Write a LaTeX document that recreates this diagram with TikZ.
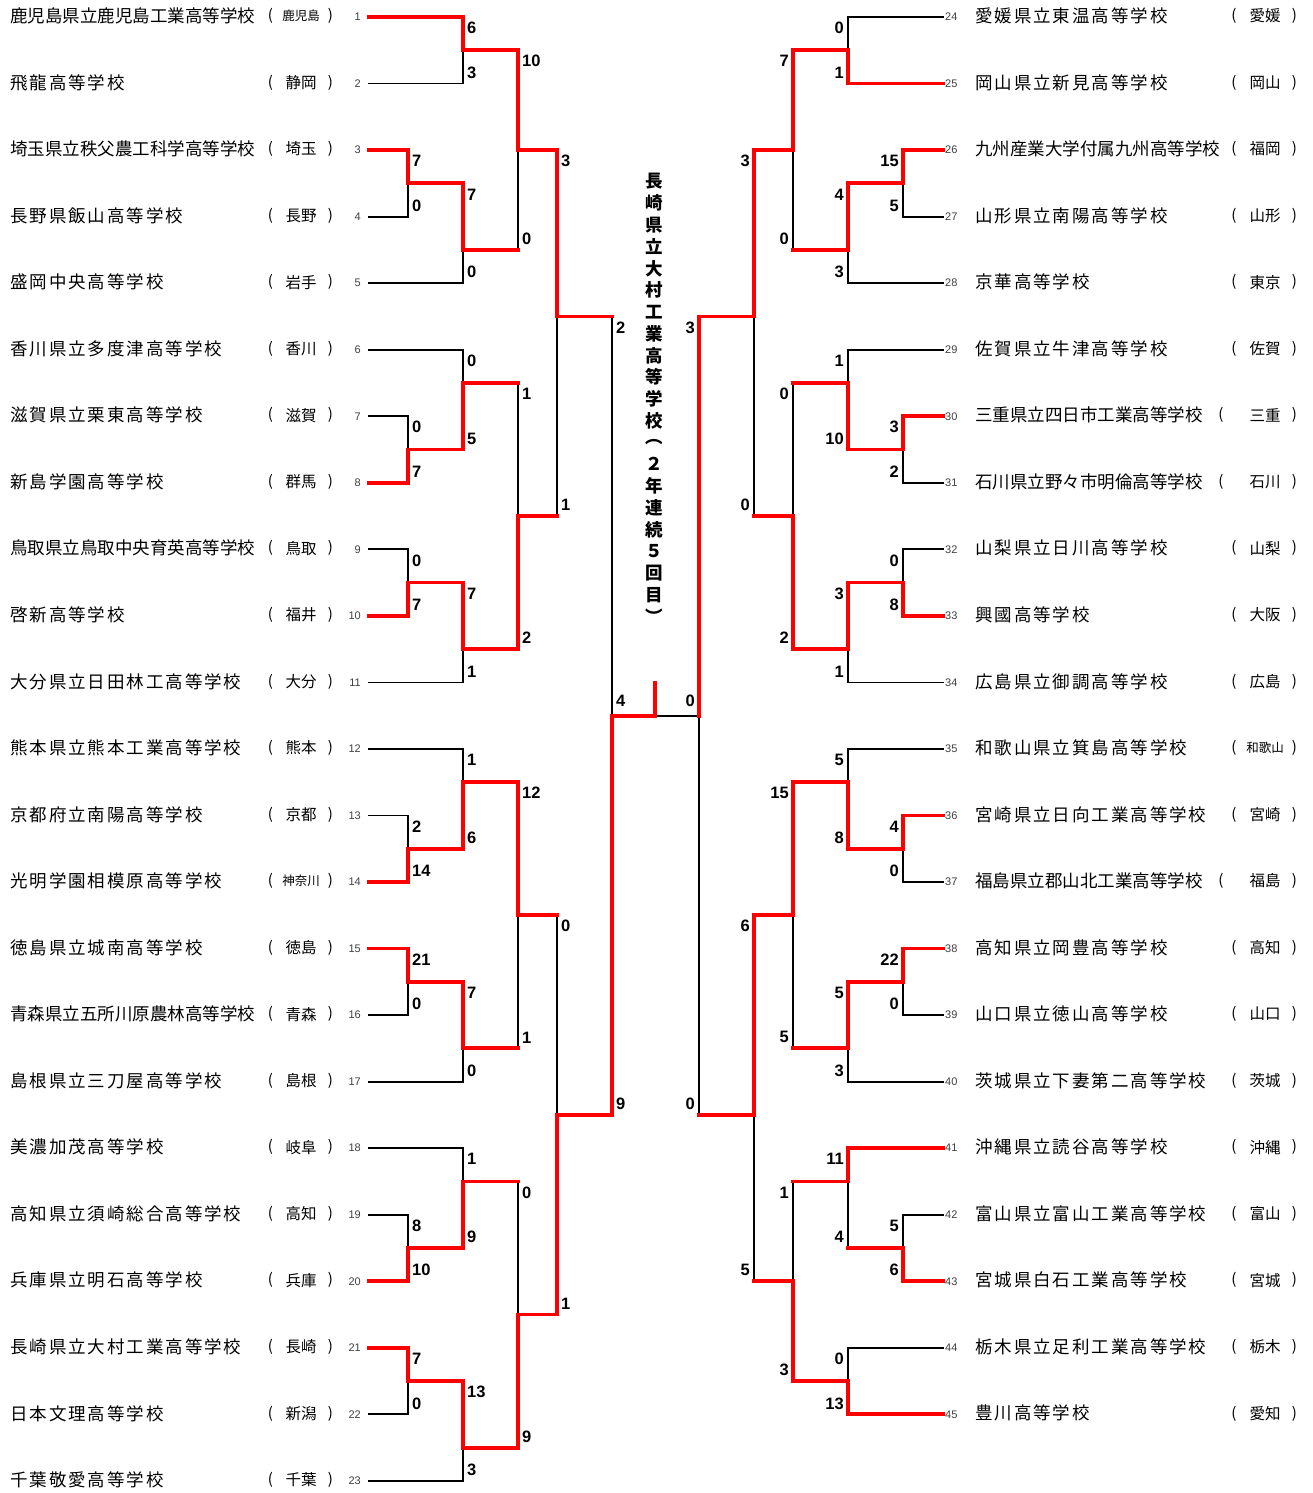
\documentclass[tikz,border=0pt]{standalone}
\usepackage{fontspec}
\setmainfont{Noto Sans CJK JP}
\newfontfamily\schoolfont{Noto Sans CJK JP}[LetterSpace=11]
\newfontfamily\tightfont{Noto Sans CJK JP}
\newfontfamily\scorefont{Liberation Sans}
\pgfdeclarelayer{winner}
\pgfsetlayers{main,winner}

\tikzset{
  lost/.style={draw=black, line width=1.8pt, line cap=rect},
  won/.style={draw=red, line width=3.8pt, line cap=rect},
  school/.style={inner sep=0pt, font=\schoolfont\fontsize{17.5}{20}\selectfont},
  prefbig/.style={inner sep=0pt, font=\fontsize{15.5}{18}\selectfont},
  prefsmall/.style={inner sep=0pt, font=\fontsize{12.5}{14}\selectfont},
  paren/.style={inner sep=0pt, font=\fontsize{15}{18}\selectfont},
  seed/.style={inner sep=0pt, text=black!75, font=\scorefont\fontsize{11}{12}\selectfont},
  score/.style={inner sep=0pt, font=\scorefont\bfseries\fontsize{16.5}{18}\selectfont},
  title/.style={inner sep=0pt, font=\bfseries\fontsize{17.5}{18}\selectfont},
}

\newcommand\seg[2]{\ifnum#1=1 \begin{pgfonlayer}{winner}\draw[won] #2;\end{pgfonlayer}\else\draw[lost] #2;\fi}

% tag, x, top row, bottom row, out row, next x, top score, bottom score, out line won
\newcommand\bout[9]{%
  \pgfmathtruncatemacro\tw{#7>#8}%
  \pgfmathtruncatemacro\bw{#7<#8}%
  \coordinate (#1t) at (#2,{17+33.27*#3});
  \coordinate (#1b) at (#2,{17+33.27*#4});
  \coordinate (#1o) at (#2,{17+33.27*#5});
  \seg{\tw}{(#1t) -- (#1o)}%
  \seg{\bw}{(#1o) -- (#1b)}%
  \seg{#9}{(#1o) -- (#6,{17+33.27*#5})}%
  \node[score, anchor=\anc] (#1st) at ({#2+(\dx)},{28+33.27*#3}) {#7};
  \node[score, anchor=\anc] (#1sb) at ({#2+(\dx)},{6+33.27*#4}) {#8};
}

\begin{document}
\begin{tikzpicture}[x=1pt, y=-1pt]
\fill[white] (0,0) rectangle (1313,1493);
\useasboundingbox (0,0) rectangle (1313,1493);

\foreach \n/\nm/\pf/\ps/\jx/\w in {
  1/{\tightfont 鹿児島県立鹿児島工業高等学校}/鹿児島/prefsmall/463/1,
  2/飛龍高等学校/静岡/prefbig/463/0,
  3/{\tightfont 埼玉県立秩父農工科学高等学校}/埼玉/prefbig/408/1,
  4/長野県飯山高等学校/長野/prefbig/408/0,
  5/盛岡中央高等学校/岩手/prefbig/463/0,
  6/香川県立多度津高等学校/香川/prefbig/463/0,
  7/滋賀県立栗東高等学校/滋賀/prefbig/408/0,
  8/新島学園高等学校/群馬/prefbig/408/1,
  9/{\tightfont 鳥取県立鳥取中央育英高等学校}/鳥取/prefbig/408/0,
  10/啓新高等学校/福井/prefbig/408/1,
  11/大分県立日田林工高等学校/大分/prefbig/463/0,
  12/熊本県立熊本工業高等学校/熊本/prefbig/463/0,
  13/京都府立南陽高等学校/京都/prefbig/408/0,
  14/光明学園相模原高等学校/神奈川/prefsmall/408/1,
  15/徳島県立城南高等学校/徳島/prefbig/408/1,
  16/{\tightfont 青森県立五所川原農林高等学校}/青森/prefbig/408/0,
  17/島根県立三刀屋高等学校/島根/prefbig/463/0,
  18/美濃加茂高等学校/岐阜/prefbig/463/0,
  19/高知県立須崎総合高等学校/高知/prefbig/408/0,
  20/兵庫県立明石高等学校/兵庫/prefbig/408/1,
  21/長崎県立大村工業高等学校/長崎/prefbig/408/1,
  22/日本文理高等学校/新潟/prefbig/408/0,
  23/千葉敬愛高等学校/千葉/prefbig/463/0} {
  \pgfmathsetmacro\yy{17+66.54*(\n-1)}
  \coordinate (e\n) at (369,\yy);
  \seg{\w}{(e\n) -- (\jx,\yy)}
  \node[school, anchor=west] (nm\n) at (10,\yy-1) {\nm};
  \node[paren] (po\n) at (270.5,\yy-1) {(};
  \node[\ps] (pf\n) at (301,\yy-1) {\pf};
  \node[paren] (pc\n) at (330.5,\yy-1) {)};
  \node[seed, anchor=east] (no\n) at (361,\yy) {\n};
}

\foreach \n/\nm/\pf/\ps/\jx/\w/\px in {
  24/愛媛県立東温高等学校/愛媛/prefbig/848/0/1234,
  25/岡山県立新見高等学校/岡山/prefbig/848/1/1234,
  26/{\tightfont 九州産業大学付属九州高等学校}/福岡/prefbig/903/1/1234,
  27/山形県立南陽高等学校/山形/prefbig/903/0/1234,
  28/京華高等学校/東京/prefbig/848/0/1234,
  29/佐賀県立牛津高等学校/佐賀/prefbig/848/0/1234,
  30/{\tightfont 三重県立四日市工業高等学校}/三重/prefbig/903/1/1221,
  31/{\tightfont 石川県立野々市明倫高等学校}/石川/prefbig/903/0/1221,
  32/山梨県立日川高等学校/山梨/prefbig/903/0/1234,
  33/興國高等学校/大阪/prefbig/903/1/1234,
  34/広島県立御調高等学校/広島/prefbig/848/0/1234,
  35/和歌山県立箕島高等学校/和歌山/prefsmall/848/0/1234,
  36/宮崎県立日向工業高等学校/宮崎/prefbig/903/1/1234,
  37/{\tightfont 福島県立郡山北工業高等学校}/福島/prefbig/903/0/1221,
  38/高知県立岡豊高等学校/高知/prefbig/903/1/1234,
  39/山口県立徳山高等学校/山口/prefbig/903/0/1234,
  40/茨城県立下妻第二高等学校/茨城/prefbig/848/0/1234,
  41/沖縄県立読谷高等学校/沖縄/prefbig/848/1/1234,
  42/富山県立富山工業高等学校/富山/prefbig/903/0/1234,
  43/宮城県白石工業高等学校/宮城/prefbig/903/1/1234,
  44/栃木県立足利工業高等学校/栃木/prefbig/848/0/1234,
  45/豊川高等学校/愛知/prefbig/848/1/1234} {
  \pgfmathsetmacro\yy{17+66.54*(\n-24)}
  \coordinate (e\n) at (943,\yy);
  \seg{\w}{(e\n) -- (\jx,\yy)}
  \node[seed, anchor=west] (no\n) at (945,\yy) {\n};
  \node[school, anchor=west] (nm\n) at (975,\yy-1) {\nm};
  \node[paren] (po\n) at (\px,\yy-1) {(};
  \node[\ps] (pf\n) at (1265,\yy-1) {\pf};
  \node[paren] (pc\n) at (1294.5,\yy-1) {)};
}

\def\anc{west}\def\dx{4}
\foreach \t/\x/\a/\b/\o/\nx/\p/\q/\f in {
  L1/463/0/2/1/518/6/3/1, L2/408/4/6/5/463/7/0/1, L3/463/5/8/7/518/7/0/1,
  L4/518/1/7/4/557/10/0/1, L5/408/12/14/13/463/0/7/1, L6/463/10/13/11/518/0/5/1,
  L7/408/16/18/17/463/0/7/1, L8/463/17/20/19/518/7/1/1, L9/518/11/19/15/557/1/2/1,
  L10/557/4/15/9/612/3/1/1, L11/408/24/26/25/463/2/14/1, L12/463/22/25/23/518/1/6/1,
  L13/408/28/30/29/463/21/0/1, L14/463/29/32/31/518/7/0/1, L15/518/23/31/27/557/12/1/1,
  L16/408/36/38/37/463/8/10/1, L17/463/34/37/35/518/1/9/1, L18/408/40/42/41/463/7/0/1,
  L19/463/41/44/43/518/13/3/1, L20/518/35/43/39/557/0/9/1, L21/557/27/39/33/612/0/1/1,
  L22/612/9/33/21/655/2/9/1}
  {\bout{\t}{\x}{\a}{\b}{\o}{\nx}{\p}{\q}{\f}}

\def\anc{east}\def\dx{-4}
\foreach \t/\x/\a/\b/\o/\nx/\p/\q/\f in {
  R1/848/0/2/1/793/0/1/1, R2/903/4/6/5/848/15/5/1, R3/848/5/8/7/793/4/3/1,
  R4/793/1/7/4/754/7/0/1, R5/903/12/14/13/848/3/2/1, R6/848/10/13/11/793/1/10/1,
  R7/903/16/18/17/848/0/8/1, R8/848/17/20/19/793/3/1/1, R9/793/11/19/15/754/0/2/1,
  R10/754/4/15/9/699/3/0/1, R11/903/24/26/25/848/4/0/1, R12/848/22/25/23/793/5/8/1,
  R13/903/28/30/29/848/22/0/1, R14/848/29/32/31/793/5/3/1, R15/793/23/31/27/754/15/5/1,
  R16/903/36/38/37/848/5/6/1, R17/848/34/37/35/793/11/4/1, R18/848/40/42/41/793/0/13/1,
  R19/793/35/41/38/754/1/3/1, R20/754/27/38/33/699/6/5/1, R21/699/9/33/21/655/3/0/0}
  {\bout{\t}{\x}{\a}{\b}{\o}{\nx}{\p}{\q}{\f}}

\coordinate (champ) at (655,{17+33.27*20});
\seg{1}{(L22o -| champ) -- (champ)}
\node[score, anchor=west] (fl) at (616,701) {4};
\node[score, anchor=east] (fr) at (695,701) {0};

\foreach \c [count=\i] in {長,崎,県,立,大,村,工,業,高,等,学,校,︵,２,年,連,続,５,回,目,︶}
  \node[title] (tt\i) at (654,{181.5+21.75*(\i-1)}) {\c};
\end{tikzpicture}
\end{document}
